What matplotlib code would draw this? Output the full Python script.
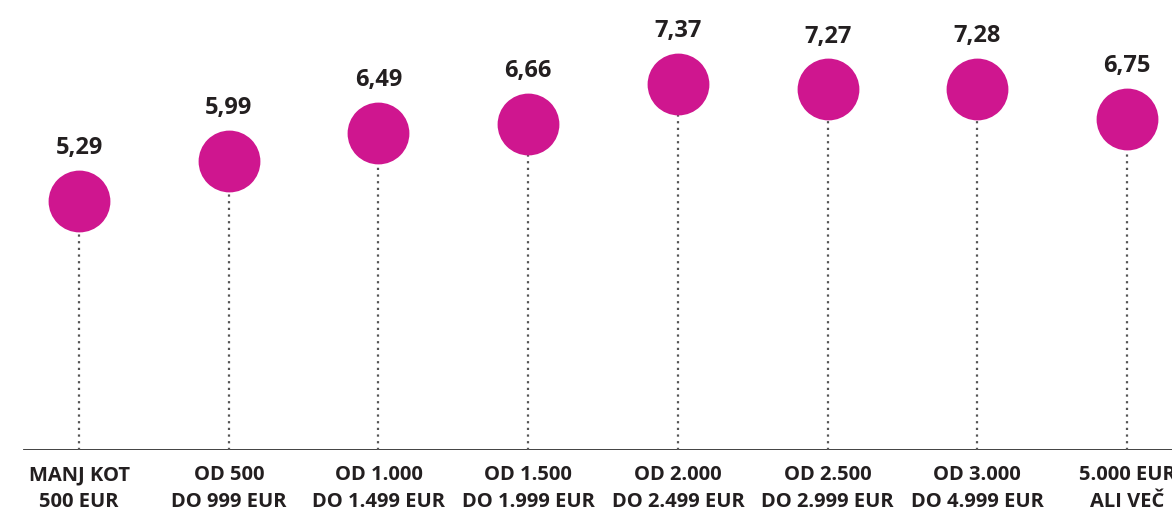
import matplotlib.pyplot as plt

categories = [
    "MANJ KOT\n500 EUR",
    "OD 500\nDO 999 EUR",
    "OD 1.000\nDO 1.499 EUR",
    "OD 1.500\nDO 1.999 EUR",
    "OD 2.000\nDO 2.499 EUR",
    "OD 2.500\nDO 2.999 EUR",
    "OD 3.000\nDO 4.999 EUR",
    "5.000 EUR\nALI VEČ",
]
values = [5.29, 5.99, 6.49, 6.66, 7.37, 7.27, 7.28, 6.75]
value_labels = ["5,29", "5,99", "6,49", "6,66", "7,37", "7,27", "7,28", "6,75"]

MAGENTA = "#cf168f"
TEXT = "#231f20"

plt.rcParams["font.family"] = ["Open Sans", "DejaVu Sans"]

fig = plt.figure(figsize=(11.72, 5.13), dpi=100)
ax = fig.add_axes([0, 0.1228, 1, 0.8772])

x = list(range(len(categories)))
base = 0.85

# dotted stems
ax.vlines(x, base, values, colors="#555555", linestyles=(0, (1, 2)),
          linewidth=1.6, zorder=1)
ax.plot(x, values, "o", color=MAGENTA, markersize=44.5, markeredgewidth=0, zorder=2)

for xi, v, lab in zip(x, values, value_labels):
    ax.annotate(lab, (xi, v), xytext=(0, 38), textcoords="offset points",
                ha="center", va="center", fontsize=17, fontweight="bold",
                color=TEXT)

ax.axhline(base, xmin=24 / 1172, xmax=1, color="#333333", linewidth=1.3, zorder=0)

ax.set_xlim(-0.528, 7.30)
ax.set_ylim(base, 8.86)

ax.set_xticks(x)
ax.set_xticklabels(categories, fontsize=14.5, fontweight="bold", color=TEXT,
                   linespacing=1.45)
ax.tick_params(axis="x", length=0, pad=11)
ax.set_yticks([])
for s in ax.spines.values():
    s.set_visible(False)

fig.savefig("out.png", dpi=100)
